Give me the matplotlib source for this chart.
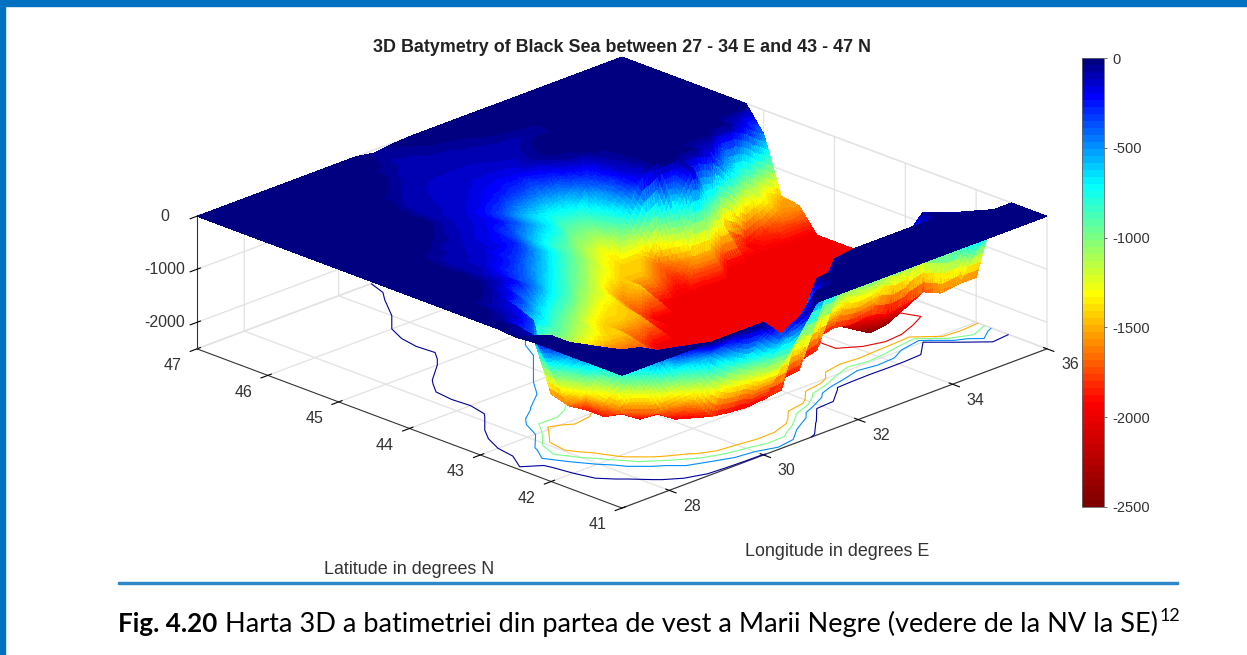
import numpy as np
import matplotlib
matplotlib.use('Agg')
from matplotlib import pyplot as plt
from matplotlib.cm import ScalarMappable
from matplotlib.colors import LinearSegmentedColormap, Normalize
from matplotlib.patches import Rectangle
from matplotlib.tri import LinearTriInterpolator, Triangulation, UniformTriRefiner
from mpl_toolkits.mplot3d import proj3d

plt.rcParams['font.family'] = ['Liberation Sans', 'DejaVu Sans']
plt.rcParams['axes.unicode_minus'] = False

# Grid nodes
lons = [27 + 0.375 * i for i in range(25)]
lats = [41 + 0.25 * i for i in range(25)]

# Depth in metres, one row per latitude (41 N first), one value per longitude
d0 = [0, 0, 0, 0, 0, 0, 0, 0, 0, -350, -150, 0, 0, 0, 0, 0, 0, 0, 0, 0, 0, 0, 0, 0, 0]
d1 = [0, 0, 0, -30, -100, -300, -500, -800, -1000, -1200, -1200, -400, -30, 0, 0, 0, 0, 0, 0, 0, 0, 0, 0, 0, 0]
d2 = [0, 0, -20, -100, -300, -800, -1400, -1900, -1950, -1980, -1950, -1900, -800, -50, 0, 0, 0, 0, 0, 0, 0, 0, 0, 0, 0]
d3 = [0, 0, -100, -300, -1000, -1700, -1950, -1980, -1980, -1980, -1980, -1980, -1950, -1900, -700, -60, 0, 0, 0, 0, 0, 0, -50, -900, -300]
d4 = [0, 0, -200, -700, -1700, -1950, -1980, -1980, -1980, -1980, -1980, -1980, -1980, -1980, -1980, -1900, -1100, -700, -900, -800, -400, -50, -1700, -1650, -1650]
d5 = [0, 0, -500, -1300, -1900, -1980, -1980, -1980, -1980, -1980, -1980, -1980, -1980, -1980, -1980, -1980, -1900, -1850, -1900, -1850, -1950, -1900, -1800, -1800, -1750]
d6 = [-30, -120, -900, -1700, -1900, -1950, -1980, -1980, -1980, -1980, -1980, -1980, -1980, -1980, -1980, -1980, -1980, -1980, -1980, -2250, -2450, -2400, -2150, -1980, -1950]
d7 = [0, -60, -400, -1600, -1750, -1900, -1950, -1980, -1980, -1980, -1980, -1980, -1980, -1980, -1980, -1980, -1980, -1980, -1980, -2300, -2300, -2250, -2020, -1980, -1980]
d8 = [0, -50, -150, -350, -1700, -1300, -1400, -1800, -1900, -1900, -1850, -1980, -1980, -1980, -1980, -1980, -1980, -1980, -1980, -1980, -2050, -2050, -1980, -1980, -1980]
d9 = [0, 0, -110, -200, -700, -850, -1050, -1250, -1400, -1430, -1750, -1980, -1980, -1980, -1980, -1980, -1980, -1980, -1980, -1980, -1980, -1980, -1980, -1980, -1980]
d10 = [0, 0, -30, -110, -250, -550, -800, -1000, -1250, -1430, -1430, -1500, -1980, -1980, -1980, -1980, -1980, -1980, -1980, -1980, -1980, -1980, -1980, -1980, -1980]
d11 = [0, 0, 0, -30, -120, -230, -450, -700, -900, -1150, -1350, -1430, -1750, -1980, -1980, -1980, -1980, -1980, -1980, -1980, -1980, -1980, -1980, -1980, -1980]
d12 = [0, 0, 0, -10, -100, -200, -330, -500, -700, -900, -1100, -1300, -1600, -1430, -1900, -1980, -1980, -1980, -1980, -1980, -1980, -1980, -1980, -1980, -1980]
d13 = [0, 0, 0, -20, -100, -130, -200, -320, -500, -700, -900, -1100, -1300, -1430, -1430, -1650, -1850, -1500, -1500, -1980, -1980, -1980, -1980, -1980, -1980]
d14 = [0, 0, 0, -10, -90, -110, -140, -180, -280, -500, -700, -900, -1100, -1300, -1430, -1430, -1650, -700, -100, -900, -1700, -1950, -1800, -1600, -1550]
d15 = [0, 0, 0, 0, -30, -100, -120, -170, -230, -380, -600, -800, -950, -1150, -1300, -800, -200, -10, 0, -10, -150, -600, -1000, -1300, -1500]
d16 = [0, 0, 0, 0, 0, -10, -80, -130, -170, -230, -380, -550, -700, -950, -1000, -600, -150, -30, 0, 0, 0, 0, -30, -200, -450]
d17 = [0, 0, 0, 0, 0, 0, -10, -100, -140, -210, -330, -500, -650, -750, -650, -350, -100, -10, 0, 0, 0, 0, 0, 0, 0]
d18 = [0, 0, 0, 0, 0, 0, -20, -100, -120, -150, -190, -250, -320, -400, -280, -80, -10, 0, 0, 0, 0, 0, 0, 0, 0]
d19 = [0, 0, 0, 0, 0, 0, 0, -90, -110, -130, -140, -180, -200, -180, -70, 0, 0, 0, 0, 0, 0, 0, 0, 0, 0]
d20 = [0, 0, 0, 0, 0, 0, 0, -50, -100, -120, -130, -130, -130, -120, -100, -30, 0, 0, 0, 0, 0, 0, 0, 0, 0]
d21 = [0, 0, 0, 0, 0, 0, 0, 0, -50, -100, -110, -110, -110, -100, -100, -90, -70, -20, 0, 0, 0, 0, 0, 0, 0]
d22 = [0, 0, 0, 0, 0, 0, 0, 0, 0, -70, -100, -100, -90, -70, -40, -10, 0, 0, 0, 0, 0, 0, 0, 0, 0]
d23 = [0, 0, 0, 0, 0, 0, 0, 0, 0, -20, -80, -70, -30, -10, 0, 0, 0, 0, 0, 0, 0, 0, 0, 0, 0]
d24 = [0, 0, 0, 0, 0, 0, 0, 0, 0, 0, -60, -20, 0, 0, 0, 0, 0, 0, 0, 0, 0, 0, 0, 0, 0]
depth = np.array([d0, d1, d2, d3, d4, d5, d6, d7, d8, d9, d10, d11, d12, d13, d14, d15, d16,
                  d17, d18, d19, d20, d21, d22, d23, d24], dtype=float)

contour_levels = [-2000, -1500, -1000, -500, -50]
lon_ticks = [28, 30, 32, 34, 36]
lat_ticks = [41, 42, 43, 44, 45, 46, 47]
z_ticks = [-2000, -1000, 0]
bar_ticks = [-2500, -2000, -1500, -1000, -500, 0]

# Colour map of the bar: dark red at -2500 up to dark blue at 0
bathy = LinearSegmentedColormap.from_list('bathy', [
    (0.0, (0.5, 0, 0)), (0.23, (1, 0, 0)), (0.475, (1, 1, 0)),
    (0.72, (0, 1, 1)), (0.92, (0, 0, 1)), (1.0, (0, 0, 0.5))], N=64)
norm = Normalize(-2500, 0)

W, H = 1247, 655
fig = plt.figure(figsize=(W / 100, H / 100), dpi=100)

# Page decoration
blue = '#0070c0'
fig.add_artist(Rectangle((0, 0), 5 / W, 1, transform=fig.transFigure, color=blue))
fig.add_artist(Rectangle((0, 1 - 6 / H), 1, 6 / H, transform=fig.transFigure, color=blue))
fig.add_artist(Rectangle((118 / W, 1 - 584 / H), 1060 / W, 2 / H, transform=fig.transFigure, color='#2f86c9'))

ax = fig.add_axes([0, 0, 1, 1], projection='3d', computed_zorder=False)
ax.patch.set_alpha(0)
ax.set_proj_type('ortho')
ax.view_init(elev=22, azim=-135)
ax.set_box_aspect((1, 1, 0.238))
ax.set_xlim(27, 36, view_margin=0)
ax.set_ylim(41, 47, view_margin=0)
ax.set_zlim(-2500, 0, view_margin=0)

lon_grid, lat_grid = np.meshgrid(lons, lats)
tri = Triangulation(lon_grid.ravel(), lat_grid.ravel())
# straight facets between the grid nodes, only split up so that the colour can vary along them
fine_tri, fine_depth = UniformTriRefiner(tri).refine_field(
    depth.ravel(), triinterpolator=LinearTriInterpolator(tri, depth.ravel()), subdiv=3)
lines = ax.contour(lon_grid, lat_grid, depth, levels=contour_levels, zdir='z', offset=-2500,
                   cmap=bathy, norm=norm, linewidths=0.8, zorder=1)
lines.set_clip_on(False)
surf = ax.plot_trisurf(fine_tri, fine_depth, cmap=bathy, vmin=-2500, vmax=0, linewidth=0,
                       antialiased=False, shade=False, zorder=2)
surf.set_clip_on(False)

ax.set_xticks(lon_ticks)
ax.set_yticks(lat_ticks)
ax.set_zticks(z_ticks)
ax.tick_params(labelsize=11.5, labelcolor='#333333')
ax.tick_params(axis='x', pad=9)
ax.tick_params(axis='y', pad=10)
ax.tick_params(axis='z', pad=4)
for label in ax.get_xticklabels() + ax.get_yticklabels() + ax.get_zticklabels():
    label.set_va('center')
for axis in (ax.xaxis, ax.yaxis, ax.zaxis):
    axis.pane.set_facecolor('white')
    axis.pane.set_edgecolor('#d9d9d9')
    axis._axinfo['grid']['color'] = '#e2e2e2'
    axis._axinfo['grid']['linewidth'] = 0.9
    axis.line.set_color('#333333')
    axis.line.set_linewidth(0.8)

# Fit the box on the picture: left corner at x=197, right corner at x=1047, back top at y=57
def to_px(lon, lat, z):
    x2, y2, _ = proj3d.proj_transform(lon, lat, z, ax.get_proj())
    return ax.transData.transform((x2, y2))

ax.apply_aspect()
left = to_px(27, 47, 0)
right = to_px(36, 41, 0)
side = ax.get_position().width * W * 850 / (right[0] - left[0])
ax.set_position([0, 0, side / W, side / H])
ax.apply_aspect()
left = to_px(27, 47, 0)
back = to_px(36, 47, 0)
x0 = (197 - left[0]) / W
y0 = ((H - 57) - back[1]) / H
ax.set_position([x0, y0, side / W, side / H])

# Colour bar
cax = fig.add_axes([1082 / W, 1 - 507 / H, 22 / W, 449 / H])
bar = fig.colorbar(ScalarMappable(norm=norm, cmap=bathy), cax=cax, ticks=bar_ticks)
bar.ax.tick_params(labelsize=10.5, labelcolor='#333333', length=2, width=0.6, color='#555555', pad=4)
bar.outline.set_edgecolor('#666666')
bar.outline.set_linewidth(0.6)

fig.text(622 / W, 1 - 47 / H, '3D Batymetry of Black Sea between 27 - 34 E and 43 - 47 N',
         ha='center', va='center', fontsize=12.9, fontweight='bold', color='#222222')
fig.text(409 / W, 1 - 569 / H, 'Latitude in degrees N', ha='center', va='center', fontsize=12.9, color='#333333')
fig.text(837 / W, 1 - 552 / H, 'Longitude in degrees E', ha='center', va='center', fontsize=12.9, color='#333333')

# Caption, bold part then regular part then the superscript
renderer = fig.canvas.get_renderer()
cap_y = 1 - 632 / H
t1 = fig.text(118 / W, cap_y, 'Fig. 4.20', family='Lato', fontweight='bold', fontsize=18.7, va='baseline', color='black')
x_next = t1.get_window_extent(renderer).x1 + 8
t2 = fig.text(x_next / W, cap_y, 'Harta 3D a batimetriei din partea de vest a Marii Negre (vedere de la NV la SE)',
              family='Lato', fontsize=19.5, va='baseline', color='black')
x_next = t2.get_window_extent(renderer).x1 + 1
fig.text(x_next / W, cap_y + 11 / H, '12', family='Lato', fontsize=13, va='baseline', color='black')

fig.savefig('out.png', dpi=100)
